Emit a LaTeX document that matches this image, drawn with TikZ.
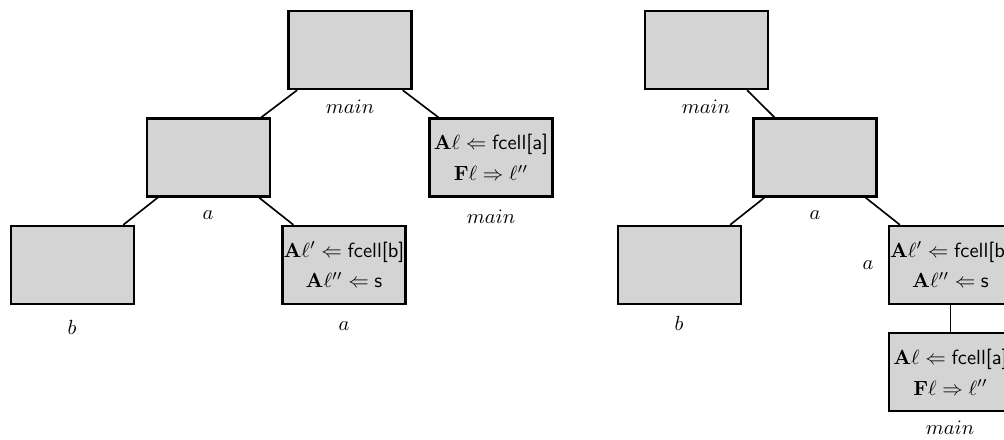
\documentclass[tikz,border=0pt]{standalone}
\usepackage{amsmath}
\definecolor{boxgray}{RGB}{212,212,212}
\tikzset{
  frame/.style={draw=black, line width=1.2pt, fill=boxgray, rectangle,
    minimum width=60pt, minimum height=38pt, inner sep=0pt, align=center},
  link/.style={draw=black, line width=0.8pt},
  lab/.style={inner sep=0pt, anchor=center}
}
\newcommand{\fc}[1]{\textsf{fcell[#1]}}
\begin{document}
\begin{tikzpicture}[x=0.4878pt, y=-0.4878pt]
  \clip (0,0) rectangle (1004,439);

  % first call tree
  \node[frame] (t1)  at (350,50)    {};
  \node[frame] (m1)  at (208.5,157.5) {};
  \node[frame] (r1)  at (491,157.5) {$\mathbf{A}\ell \Leftarrow \text{\fc{a}}$\\[3pt]$\mathbf{F}\ell \Rightarrow \ell''$};
  \node[frame] (bl1) at (72.5,265)  {};
  \node[frame] (br1) at (344,265)   {$\mathbf{A}\ell' \Leftarrow \text{\fc{b}}$\\[3pt]$\mathbf{A}\ell'' \Leftarrow \text{\textsf{s}}$};

  \draw[link] (t1) -- (m1);
  \draw[link] (t1) -- (r1);
  \draw[link] (m1) -- (bl1);
  \draw[link] (m1) -- (br1);

  \node[lab] (lt1)  at (350,107) {$main$};
  \node[lab] (lm1)  at (208,215) {$a$};
  \node[lab] (lr1)  at (491,217) {$main$};
  \node[lab] (lbl1) at (72,327)  {$b$};
  \node[lab] (lbr1) at (344,326) {$a$};

  % second call tree
  \node[frame] (t2)  at (706.5,50)   {};
  \node[frame] (m2)  at (815,157.5)  {};
  \node[frame] (bl2) at (679.5,265)  {};
  \node[frame] (br2) at (950.5,265)  {$\mathbf{A}\ell' \Leftarrow \text{\fc{b}}$\\[3pt]$\mathbf{A}\ell'' \Leftarrow \text{\textsf{s}}$};
  \node[frame] (b2)  at (950.5,372)  {$\mathbf{A}\ell \Leftarrow \text{\fc{a}}$\\[3pt]$\mathbf{F}\ell \Rightarrow \ell''$};

  \draw[link] (t2) -- (m2);
  \draw[link] (m2) -- (bl2);
  \draw[link] (m2) -- (br2);
  \draw[link] (br2) -- (b2);

  \node[lab] (lt2)  at (706,107) {$main$};
  \node[lab] (lm2)  at (815,215) {$a$};
  \node[lab] (lbl2) at (679,323) {$b$};
  \node[lab] (lbr2) at (868,265) {$a$};
  \node[lab] (lb2)  at (950,428) {$main$};
\end{tikzpicture}
\end{document}
